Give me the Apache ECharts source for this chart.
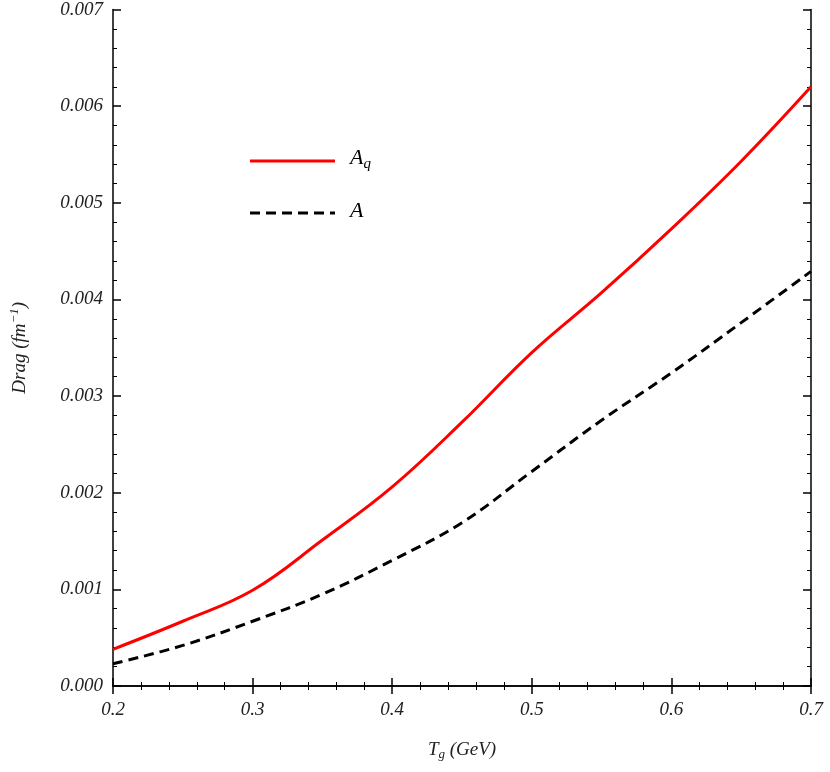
<!DOCTYPE html>
<html>
<head>
<meta charset="utf-8">
<script src="https://cdn.jsdelivr.net/npm/echarts@6/dist/echarts.min.js"></script>
<style>html,body{margin:0;background:#fff}#c{width:830px;height:772px}</style>
</head>
<body>
<div id="c"></div>
<script>
// values
const tg = [0.2, 0.25, 0.3, 0.35, 0.4, 0.45, 0.5, 0.55, 0.6, 0.65, 0.7];
const dragAq = [0.00038, 0.00067, 0.00099, 0.00151, 0.00206, 0.00273, 0.00345, 0.00407, 0.00473, 0.00543, 0.00620];
const dragA = [0.00023, 0.00042, 0.00067, 0.00095, 0.00130, 0.00169, 0.00222, 0.00275, 0.00324, 0.00376, 0.00429];
const xTicks = ['0.2', '0.3', '0.4', '0.5', '0.6', '0.7'];
const yTicks = ['0.000', '0.001', '0.002', '0.003', '0.004', '0.005', '0.006', '0.007'];

const font = 'Liberation Serif';
const lbl = { fontFamily: font, fontStyle: 'italic', fontSize: 19, color: '#222' };

const chart = echarts.init(document.getElementById('c'));
const tickCfg = { show: true, inside: true, length: 8, lineStyle: { color: '#000', width: 1.5 } };
const minorCfg = { show: true, splitNumber: 5, length: 4, lineStyle: { color: '#000' } };
const rich = {
    t: { fontFamily: font, fontStyle: 'italic', fontSize: 19, color: '#222' },
    sub: { fontFamily: font, fontStyle: 'italic', fontSize: 13, color: '#222', padding: [10, 0, 0, 0] },
    sup: { fontFamily: font, fontStyle: 'italic', fontSize: 13, color: '#222', padding: [0, 0, 10, 0] }
};

chart.setOption({
    animation: false,
    grid: { left: 104, right: 19, top: 4, bottom: 86 },
    xAxis: [{
        type: 'value', min: 0.2, max: 0.7, interval: 0.1,
        name: '{t|T}{sub|g}{t| (GeV)}', nameLocation: 'middle', nameGap: 52,
        nameTextStyle: { rich },
        axisLine: { lineStyle: { color: '#000', width: 1.5 } },
        axisTick: tickCfg, minorTick: minorCfg, splitLine: { show: false },
        axisLabel: { ...lbl, margin: 14, formatter: v => xTicks.find(t => Math.abs(+t - v) < 1e-9) || '' }
    }, {
        type: 'value', min: 0.2, max: 0.7, interval: 0.1, position: 'top',
        axisLine: { lineStyle: { color: '#000', width: 1.5 } },
        axisTick: tickCfg, minorTick: minorCfg, axisLabel: { show: false }, splitLine: { show: false }
    }],
    yAxis: [{
        type: 'value', min: 0, max: 0.007, interval: 0.001,
        name: '{t|Drag (fm}{sup|−1}{t|)}', nameLocation: 'middle', nameGap: 82,
        nameTextStyle: { rich },
        axisLine: { show: true, lineStyle: { color: '#000', width: 1.5 } },
        axisTick: tickCfg, minorTick: minorCfg, splitLine: { show: false },
        axisLabel: { ...lbl, margin: 10, formatter: v => yTicks[Math.round(v * 1000)] }
    }, {
        type: 'value', min: 0, max: 0.007, interval: 0.001, position: 'right',
        axisLine: { show: true, lineStyle: { color: '#000', width: 1.5 } },
        axisTick: tickCfg, minorTick: minorCfg, axisLabel: { show: false }, splitLine: { show: false }
    }],
    series: [{
        name: 'A_q', type: 'line', smooth: 0.4, symbol: 'none',
        data: tg.map((x, i) => [x, dragAq[i]]),
        lineStyle: { color: '#ff0000', width: 3 }
    }, {
        name: 'A', type: 'line', smooth: 0.4, symbol: 'none',
        data: tg.map((x, i) => [x, dragA[i]]),
        lineStyle: { color: '#000', width: 3, type: [10, 6] }
    }],
    graphic: [
        { type: 'line', shape: { x1: 250, y1: 161, x2: 335, y2: 161 }, style: { stroke: '#ff0000', lineWidth: 3 } },
        { type: 'text', left: 350, top: 147, style: { text: '{a|A}{s|q}', rich: { a: { fontFamily: font, fontStyle: 'italic', fontSize: 22, fill: '#000' }, s: { fontFamily: font, fontStyle: 'italic', fontSize: 15, fill: '#000', padding: [12, 0, 0, 0] } } } },
        { type: 'line', shape: { x1: 250, y1: 213, x2: 335, y2: 213 }, style: { stroke: '#000', lineWidth: 3, lineDash: [10, 6] } },
        { type: 'text', left: 350, top: 200, style: { text: 'A', font: 'italic 22px "Liberation Serif"', fill: '#000' } }
    ]
});
</script>
</body>
</html>
